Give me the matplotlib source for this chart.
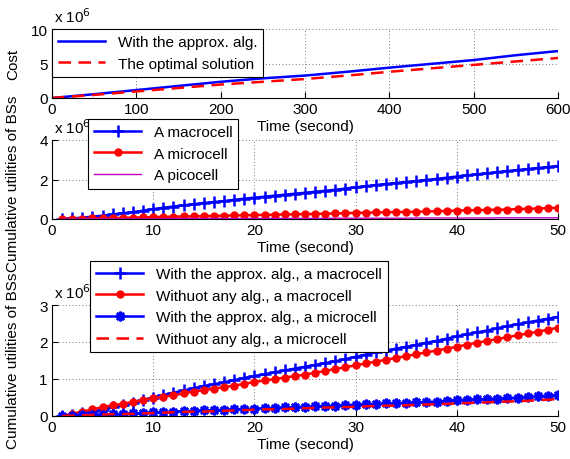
import numpy as np
import matplotlib
matplotlib.use("Agg")
import matplotlib.pyplot as plt

plt.rcParams['font.family'] = ['Liberation Sans', 'DejaVu Sans']
plt.rcParams['font.size'] = 11
plt.rcParams['xtick.direction'] = 'in'
plt.rcParams['ytick.direction'] = 'in'

# ---- data (values in units of 1e6) ----
t_cost = [0, 50, 100, 150, 200, 250, 300, 350, 400, 450, 500, 550, 600]
cost_approx = [0, 0.55, 1.15, 1.75, 2.35, 2.85, 3.25, 3.8, 4.4, 4.95, 5.5, 6.2, 6.8]
cost_opt = [0, 0.45, 0.95, 1.45, 1.95, 2.35, 2.75, 3.25, 3.8, 4.3, 4.8, 5.3, 5.8]

t = list(range(1, 51))
macro = [0.0, 0.03, 0.07, 0.12, 0.17, 0.23, 0.29, 0.35, 0.42, 0.50,
         0.57, 0.63, 0.69, 0.75, 0.81, 0.86, 0.91, 0.97, 1.03, 1.08,
         1.13, 1.18, 1.23, 1.28, 1.33, 1.38, 1.43, 1.48, 1.54, 1.60,
         1.66, 1.72, 1.77, 1.82, 1.87, 1.92, 1.98, 2.03, 2.09, 2.15,
         2.21, 2.26, 2.31, 2.37, 2.43, 2.48, 2.53, 2.58, 2.63, 2.68]
micro = [0.0, 0.01, 0.02, 0.03, 0.04, 0.05, 0.06, 0.07, 0.08, 0.10,
         0.11, 0.12, 0.13, 0.14, 0.15, 0.16, 0.17, 0.18, 0.19, 0.20,
         0.21, 0.22, 0.23, 0.24, 0.25, 0.26, 0.27, 0.28, 0.29, 0.31,
         0.32, 0.33, 0.34, 0.35, 0.36, 0.37, 0.38, 0.39, 0.41, 0.43,
         0.44, 0.45, 0.46, 0.47, 0.48, 0.50, 0.52, 0.53, 0.55, 0.57]
pico = [0.0, 0.0, 0.0, 0.01, 0.01, 0.01, 0.01, 0.01, 0.01, 0.01,
        0.01, 0.02, 0.02, 0.02, 0.02, 0.02, 0.02, 0.02, 0.02, 0.03,
        0.03, 0.03, 0.03, 0.03, 0.03, 0.03, 0.03, 0.04, 0.04, 0.04,
        0.04, 0.04, 0.04, 0.04, 0.04, 0.05, 0.05, 0.05, 0.05, 0.05,
        0.05, 0.05, 0.05, 0.06, 0.06, 0.06, 0.06, 0.06, 0.06, 0.06]
macro_noalg = [0.0, 0.06, 0.12, 0.18, 0.24, 0.29, 0.33, 0.38, 0.43, 0.48,
               0.52, 0.56, 0.61, 0.66, 0.70, 0.74, 0.78, 0.82, 0.87, 0.92,
               0.96, 1.00, 1.04, 1.08, 1.12, 1.17, 1.22, 1.27, 1.32, 1.37,
               1.42, 1.47, 1.52, 1.57, 1.62, 1.67, 1.72, 1.77, 1.82, 1.87,
               1.93, 1.98, 2.03, 2.08, 2.13, 2.18, 2.23, 2.28, 2.33, 2.39]
micro_noalg = [0.0, 0.01, 0.02, 0.03, 0.04, 0.05, 0.05, 0.06, 0.07, 0.08,
               0.09, 0.10, 0.11, 0.12, 0.12, 0.13, 0.14, 0.15, 0.16, 0.17,
               0.18, 0.18, 0.19, 0.20, 0.21, 0.22, 0.23, 0.23, 0.24, 0.25,
               0.26, 0.27, 0.28, 0.28, 0.29, 0.30, 0.31, 0.32, 0.33, 0.34,
               0.35, 0.36, 0.37, 0.38, 0.39, 0.40, 0.41, 0.43, 0.44, 0.46]

W, H = 570, 460
fig = plt.figure(figsize=(W / 100, H / 100), dpi=100)


def px_axes(x0, y0, x1, y1):
    return fig.add_axes([x0 / W, 1 - y1 / H, (x1 - x0) / W, (y1 - y0) / H])


def style(ax, xticks, yticks):
    ax.set_xticks(xticks)
    ax.set_yticks(yticks)
    ax.set_xlim(xticks[0], xticks[-1])
    ax.set_ylim(yticks[0], yticks[-1])
    ax.spines['top'].set_visible(False)
    ax.spines['right'].set_visible(False)
    ax.grid(True, linestyle=(0, (1, 3)), color='0.3', linewidth=0.6)
    ax.tick_params(length=4, pad=3)
    ax.set_axisbelow(True)


def leg(ax, x, y, **kw):
    lg = ax.legend(loc='upper left', bbox_to_anchor=(x / W, 1 - y / H),
                   bbox_transform=fig.transFigure, fancybox=False,
                   edgecolor='k', framealpha=1, borderaxespad=0,
                   handlelength=3.1, **kw)
    lg.get_frame().set_linewidth(0.8)
    return lg


# top: cost
ax1 = px_axes(52, 30, 558, 99)
ax1.plot(t_cost, cost_approx, color='b', lw=1.8, label='With the approx. alg.')
ax1.plot(t_cost, cost_opt, color='r', lw=1.8, ls=(0, (5, 3)), label='The optimal solution')
style(ax1, [0, 100, 200, 300, 400, 500, 600], [0, 5, 10])
ax1.set_xlabel('Time (second)', labelpad=2)
leg(ax1, 52, 30)

# middle: cell types
ax2 = px_axes(52, 141, 558, 220)
ax2.plot(t, macro, color='b', lw=1.8, marker='+', ms=8, mew=1.8, label='A macrocell')
ax2.plot(t, micro, color='r', lw=1.8, marker='o', ms=5, label='A microcell')
ax2.plot(t, pico, color='m', lw=1.0, label='A picocell')
style(ax2, [0, 10, 20, 30, 40, 50], [0, 2, 4])
ax2.set_xlabel('Time (second)', labelpad=2)
leg(ax2, 88, 120)

# bottom: approx vs none
ax3 = px_axes(52, 306, 558, 417)
ax3.plot(t, macro, color='b', lw=1.8, marker='+', ms=8, mew=1.8,
         label='With the approx. alg., a macrocell')
ax3.plot(t, macro_noalg, color='r', lw=1.8, marker='o', ms=5,
         label='Withuot any alg., a macrocell')
ax3.plot(t, micro, color='b', lw=1.8, marker=(8, 2, 0), ms=7, mew=1.8,
         label='With the approx. alg., a microcell')
ax3.plot(t, micro_noalg, color='r', lw=1.8, ls=(0, (5, 3)),
         label='Withuot any alg., a microcell')
style(ax3, [0, 10, 20, 30, 40, 50], [0, 1, 2, 3])
ax3.set_xlabel('Time (second)', labelpad=2)
leg(ax3, 90, 262)

# multiplier labels and y labels
for y in (17, 128, 293):
    fig.text(54 / W, 1 - y / H, r'x 10$^6$', ha='left', va='center')
fig.text(13 / W, 1 - 64 / H, 'Cost', rotation=90, ha='center', va='center')
fig.text(13 / W, 1 - 184 / H, 'Cumulative utilities of BSs', rotation=90, ha='center', va='center')
fig.text(13 / W, 1 - 361 / H, 'Cumulative utilities of BSs', rotation=90, ha='center', va='center')

fig.savefig('out.png', dpi=100)
